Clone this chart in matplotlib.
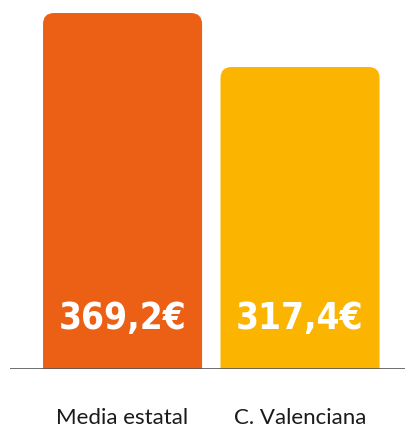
import matplotlib.pyplot as plt
from matplotlib.patches import FancyBboxPatch

categories = ["Media estatal", "C. Valenciana"]
values = [369.2, 317.4]
value_labels = ["369,2€", "317,4€"]
colors = ["#EC6015", "#FBB500"]

W, H = 406, 430
fig = plt.figure(figsize=(W / 100, H / 100), dpi=100)
# axes: left edge at the start of the baseline, bottom on the baseline
ax = fig.add_axes([10 / W, 61 / H, 396 / W, 369 / H])

x0, x1 = -0.634, 1.597
y0, y1 = 27.7, 381.7
ax.set_xlim(x0, x1)
ax.set_ylim(y0, y1)

bar_w = 0.896
radius_px = 11
# data units per pixel in each direction, to keep the corners round
x_per_px = (x1 - x0) / 396
y_per_px = (y1 - y0) / 369
r = radius_px * x_per_px
aspect = y_per_px / x_per_px

for i, (v, c) in enumerate(zip(values, colors)):
    box = FancyBboxPatch((i - bar_w / 2, 0), bar_w, v,
                         boxstyle=f"round,pad=0,rounding_size={r}",
                         mutation_aspect=aspect, fc=c, ec="none")
    ax.add_patch(box)
    ax.annotate(value_labels[i], xy=(i, y0), xytext=(0, 51 * 0.72),
                textcoords="offset points", ha="center", va="center",
                color="white", fontsize=26.5, fontweight="bold",
                fontstretch="condensed", family="DejaVu Sans")

ax.axhline(y0, color="#555555", lw=1.2)

ax.set_xticks(range(len(categories)))
ax.set_xticklabels(categories, fontsize=16, color="#1a1a1a", family="Lato")
ax.tick_params(axis="x", length=0, pad=28)
ax.set_yticks([])
for s in ax.spines.values():
    s.set_visible(False)

fig.savefig("out.png", dpi=100)
